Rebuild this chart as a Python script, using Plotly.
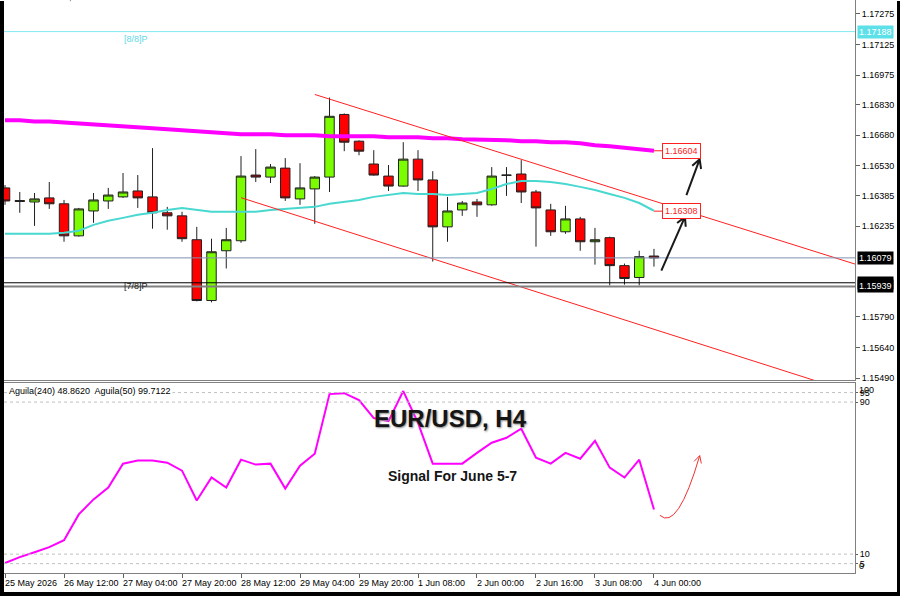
import math
import plotly.graph_objects as go

W, H = 900, 599

# ---------------- data ----------------
bars = list(range(45))
opens = [1.16422, 1.16360, 1.16353, 1.16373, 1.16344, 1.16187, 1.16309, 1.16358, 1.16378, 1.16407,
         1.16378, 1.16300, 1.16285, 1.16168, 1.15870, 1.16114, 1.16163, 1.16485, 1.16475, 1.16519,
         1.16368, 1.16417, 1.16475, 1.16782, 1.16651, 1.16539, 1.16480, 1.16431, 1.16563, 1.16461,
         1.16231, 1.16314, 1.16353, 1.16339, 1.16485, 1.16490, 1.16402, 1.16314, 1.16207, 1.16270,
         1.16158, 1.16178, 1.16041, 1.15983, 1.16088]
highs = [1.16436, 1.16402, 1.16397, 1.16451, 1.16363, 1.16324, 1.16397, 1.16422, 1.16495, 1.16485,
         1.16617, 1.16329, 1.16305, 1.16231, 1.16173, 1.16226, 1.16578, 1.16612, 1.16539, 1.16568,
         1.16543, 1.16480, 1.16865, 1.16787, 1.16655, 1.16607, 1.16534, 1.16646, 1.16607, 1.16504,
         1.16378, 1.16358, 1.16368, 1.16524, 1.16524, 1.16558, 1.16412, 1.16344, 1.16334, 1.16280,
         1.16226, 1.16183, 1.16051, 1.16114, 1.16123]
lows = [1.16339, 1.16300, 1.16236, 1.16319, 1.16158, 1.16183, 1.16251, 1.16319, 1.16373, 1.16324,
        1.16222, 1.16217, 1.16158, 1.15866, 1.15861, 1.16027, 1.16153, 1.16451, 1.16446, 1.16358,
        1.16339, 1.16246, 1.16402, 1.16602, 1.16582, 1.16482, 1.16407, 1.16428, 1.16407, 1.16061,
        1.16158, 1.16285, 1.16280, 1.16335, 1.16383, 1.16348, 1.16134, 1.16187, 1.16197, 1.16114,
        1.16046, 1.15944, 1.15948, 1.15944, 1.16036]
closes = [1.16358, 1.16356, 1.16368, 1.16344, 1.16187, 1.16319, 1.16363, 1.16387, 1.16402, 1.16373,
          1.16300, 1.16285, 1.16173, 1.15870, 1.16109, 1.16168, 1.16480, 1.16475, 1.16524, 1.16373,
          1.16422, 1.16475, 1.16773, 1.16646, 1.16602, 1.16485, 1.16431, 1.16563, 1.16461, 1.16231,
          1.16309, 1.16348, 1.16339, 1.16480, 1.16484, 1.16402, 1.16324, 1.16207, 1.16270, 1.16158,
          1.16168, 1.16041, 1.15978, 1.16085, 1.16079]
ma_slow = [1.16753, 1.16753, 1.16748, 1.16748, 1.16743, 1.16739, 1.16734, 1.16729, 1.16724, 1.16719,
           1.16714, 1.16709, 1.16704, 1.16700, 1.16695, 1.16690, 1.16685, 1.16685, 1.16685, 1.16680,
           1.16680, 1.16680, 1.16675, 1.16675, 1.16675, 1.16675, 1.16670, 1.16670, 1.16670, 1.16665,
           1.16665, 1.16660, 1.16660, 1.16656, 1.16656, 1.16651, 1.16651, 1.16646, 1.16646, 1.16641,
           1.16631, 1.16626, 1.16617, 1.16612, 1.16604]
ma_fast = [1.16197, 1.16197, 1.16197, 1.16197, 1.16202, 1.16212, 1.16241, 1.16261, 1.16275, 1.16290,
           1.16300, 1.16314, 1.16324, 1.16314, 1.16305, 1.16305, 1.16305, 1.16305, 1.16314, 1.16319,
           1.16324, 1.16329, 1.16344, 1.16353, 1.16363, 1.16378, 1.16387, 1.16397, 1.16392, 1.16392,
           1.16387, 1.16392, 1.16397, 1.16417, 1.16441, 1.16456, 1.16456, 1.16451, 1.16441, 1.16427,
           1.16412, 1.16392, 1.16373, 1.16348, 1.16310]
aguila = [5.3, 8.4, 11.0, 13.7, 17.3, 30.9, 38.8, 45.0, 57.6, 59.2,
          59.2, 58.1, 53.9, 38.2, 50.3, 45.0, 59.7, 57.1, 57.6, 44.5,
          56.5, 62.8, 94.2, 94.7, 91.0, 81.6, 80.0, 95.8, 79.0, 57.6,
          57.6, 57.6, 63.3, 68.6, 71.2, 76.0, 60.7, 57.6, 63.3, 60.2,
          69.6, 55.5, 50.3, 59.7, 33.5]

x_tick_idx = [0, 4, 8, 12, 16, 20, 24, 28, 32, 36, 40, 44]
x_tick_labels = ["25 May 2026", "26 May 12:00", "27 May 04:00", "27 May 20:00", "28 May 12:00",
                 "29 May 04:00", "29 May 20:00", "1 Jun 08:00", "2 Jun 00:00", "2 Jun 16:00",
                 "3 Jun 08:00", "4 Jun 00:00"]
price_ticks = [1.17275, 1.17125, 1.16975, 1.16830, 1.16680, 1.16530, 1.16385, 1.16235,
               1.15790, 1.15640, 1.15490]
osc_ticks = [95, 90, 10, 5]
osc_levels = [95, 90, 10, 5]

level_88 = 1.17188
level_bid = 1.16079
level_hi = 1.15957
level_78 = 1.15939
ma_slow_label = 1.16604
ma_fast_label = 1.16308

upper_channel = [(21, 1.16880), (44, 1.16358)]
lower_channel = [(16, 1.16374), (44, 1.15729)]

header = "\u25BC EURUSDm,H4  1.16088 1.16123 1.16036 1.16079"
osc_header = "Aguila(240) 48.8620  Aguila(50) 99.7122"

# ---------------- geometry ----------------
PX_L, PX_R = 4, 855
MAIN_T, MAIN_B = 0, 382
LOW_T, LOW_B = 385, 576
XR = [-0.07, 57.63]
YR = [1.15480, 1.17343]
YR2 = [0, 100]

def px_x(i):
    return PX_L + (i - XR[0]) / (XR[1] - XR[0]) * (PX_R - PX_L)

def dx_from_px(px):
    return XR[0] + (px - PX_L) / (PX_R - PX_L) * (XR[1] - XR[0])

def px_y(p):
    return MAIN_T + (YR[1] - p) / (YR[1] - YR[0]) * (MAIN_B - MAIN_T)

def py_from_px(py):
    return YR[1] - (py - MAIN_T) / (MAIN_B - MAIN_T) * (YR[1] - YR[0])

def px_y2(v):
    return LOW_T + (YR2[1] - v) / (YR2[1] - YR2[0]) * (LOW_B - LOW_T)

def v_from_px(py):
    return YR2[1] - (py - LOW_T) / (LOW_B - LOW_T) * (YR2[1] - YR2[0])

FONT = "Liberation Sans, Arial, sans-serif"

fig = go.Figure()

fig.add_trace(go.Candlestick(
    x=bars, open=opens, high=highs, low=lows, close=closes,
    increasing=dict(line=dict(color="#202020", width=1), fillcolor="#7CFC00"),
    decreasing=dict(line=dict(color="#202020", width=1), fillcolor="#FF0000"),
    whiskerwidth=0, xaxis="x", yaxis="y", showlegend=False, hoverinfo="skip"))

fig.add_trace(go.Scatter(x=bars, y=ma_slow, mode="lines", line=dict(color="#FF00FF", width=4),
                         xaxis="x", yaxis="y", showlegend=False, hoverinfo="skip"))
fig.add_trace(go.Scatter(x=bars, y=ma_fast, mode="lines", line=dict(color="#48D8D0", width=2),
                         xaxis="x", yaxis="y", showlegend=False, hoverinfo="skip"))

def extend(line, x_end):
    (x0, y0), (x1, y1) = line
    s = (y1 - y0) / (x1 - x0)
    return [x0, x_end], [y0, y0 + s * (x_end - x0)]

for ch in (upper_channel, lower_channel):
    xs, ys = extend(ch, XR[1] + 2)
    fig.add_trace(go.Scatter(x=xs, y=ys, mode="lines", line=dict(color="#FF2020", width=1),
                             xaxis="x", yaxis="y", showlegend=False, hoverinfo="skip"))

fig.add_trace(go.Scatter(x=bars, y=aguila, mode="lines", line=dict(color="#FF00FF", width=2),
                         xaxis="x2", yaxis="y2", showlegend=False, hoverinfo="skip"))

shapes = []
shapes.append(dict(type="line", xref="x domain", yref="y", x0=0, x1=1, y0=level_88, y1=level_88,
                   line=dict(color="#7FE8F0", width=1)))
shapes.append(dict(type="line", xref="x domain", yref="y", x0=0, x1=1, y0=level_bid, y1=level_bid,
                   line=dict(color="#8090B0", width=1)))
shapes.append(dict(type="line", xref="x domain", yref="y", x0=0, x1=1, y0=level_hi, y1=level_hi,
                   line=dict(color="#000000", width=1)))
shapes.append(dict(type="line", xref="x domain", yref="y", x0=0, x1=1, y0=level_78, y1=level_78,
                   line=dict(color="#808080", width=2)))
for lv in osc_levels:
    shapes.append(dict(type="line", xref="x2 domain", yref="y2", x0=0, x1=1, y0=lv, y1=lv,
                       line=dict(color="#C0C0C0", width=1, dash="dot")))

for val in (ma_slow_label, ma_fast_label):
    shapes.append(dict(type="line", xref="x", yref="y", x0=44, x1=44.6, y0=val, y1=val,
                       line=dict(color="#FF2020", width=1)))

def head_pts(ex, ey, dxp, dyp, length=9, ang=28):
    n = math.hypot(dxp, dyp)
    ux, uy = dxp / n, dyp / n
    pts = []
    for a in (ang, -ang):
        r = math.radians(a)
        bx = -(ux * math.cos(r) - uy * math.sin(r))
        by = -(ux * math.sin(r) + uy * math.cos(r))
        pts.append((ex + bx * length, ey + by * length))
    return pts

def arrow_main(start, end, color="#1A1A1A", width=2):
    sx, sy = px_x(start[0]), px_y(start[1])
    ex, ey = px_x(end[0]), px_y(end[1])
    p1, p2 = head_pts(ex, ey, ex - sx, ey - sy, length=10)
    path = "M {},{} L {},{} M {},{} L {},{} L {},{}".format(
        start[0], start[1], end[0], end[1],
        dx_from_px(p1[0]), py_from_px(p1[1]), end[0], end[1],
        dx_from_px(p2[0]), py_from_px(p2[1]))
    shapes.append(dict(type="path", xref="x", yref="y", path=path, line=dict(color=color, width=width)))

arrow_main((44.5, 1.16017), (46.1, 1.16280))
arrow_main((46.2, 1.16387), (47.1, 1.16563))

c_start, c_ctrl, c_end = (44.4, 30.4), (45.6, 22.0), (47.1, 61.8)
ex, ey = px_x(c_end[0]), px_y2(c_end[1])
cx, cy = px_x(c_ctrl[0]), px_y2(c_ctrl[1])
h1, h2 = head_pts(ex, ey, ex - cx, ey - cy, length=8)
path = "M {},{} Q {},{} {},{} M {},{} L {},{} L {},{}".format(
    c_start[0], c_start[1], c_ctrl[0], c_ctrl[1], c_end[0], c_end[1],
    dx_from_px(h1[0]), v_from_px(h1[1]), c_end[0], c_end[1], dx_from_px(h2[0]), v_from_px(h2[1]))
shapes.append(dict(type="path", xref="x2", yref="y2", path=path, line=dict(color="#F03030", width=1)))

# outer dark frame (left, bottom, right)
shapes.append(dict(type="rect", xref="paper", yref="paper", x0=0, x1=4 / W, y0=0, y1=1 - 1 / H,
                   fillcolor="#000000", line=dict(width=0), layer="above"))
shapes.append(dict(type="rect", xref="paper", yref="paper", x0=0, x1=1, y0=0, y1=4 / H,
                   fillcolor="#000000", line=dict(width=0), layer="above"))
shapes.append(dict(type="rect", xref="paper", yref="paper", x0=1 - 3 / W, x1=1, y0=0, y1=1 - 1 / H,
                   fillcolor="#000000", line=dict(width=0), layer="above"))

ann = []
ann.append(dict(xref="paper", yref="paper", x=10 / W, y=1 + 3 / H, xanchor="left", yanchor="middle",
                text=header, showarrow=False, font=dict(family=FONT, size=9, color="black")))
ann.append(dict(xref="paper", yref="paper", x=7 / W, y=1 - 393 / H, xanchor="left", yanchor="middle",
                text=osc_header, showarrow=False, bgcolor="white",
                font=dict(family=FONT, size=9, color="black")))
ann.append(dict(xref="x", yref="y", x=8.9, y=level_88, xanchor="center", yanchor="top",
                text="[8/8]P", showarrow=False, font=dict(family=FONT, size=9, color="#5ED8E8")))
ann.append(dict(xref="x", yref="y", x=8.9, y=level_78, xanchor="center", yanchor="middle",
                text="[7/8]P", showarrow=False, font=dict(family=FONT, size=9, color="#202020")))

for val, bg in ((level_88, "#5EE0E8"), (level_bid, "black"), (level_hi, "black"), (level_78, "black")):
    ann.append(dict(xref="paper", yref="y", x=857 / W, y=val, xanchor="left", yanchor="middle",
                    text="{:.5f}".format(val), showarrow=False, bgcolor=bg, borderpad=1,
                    font=dict(family=FONT, size=9, color="white")))

for val in (ma_slow_label, ma_fast_label):
    ann.append(dict(xref="x", yref="y", x=44.55, y=val, xanchor="left", yanchor="middle",
                    text="{:.5f}".format(val), showarrow=False, bgcolor="white", bordercolor="#FF2020",
                    borderwidth=1, borderpad=2, font=dict(family=FONT, size=9, color="#FF2020")))

ann.append(dict(xref="paper", yref="y2 domain", x=857 / W, y=1, xanchor="left", yanchor="top",
                text="100", showarrow=False, font=dict(family=FONT, size=9, color="black")))
ann.append(dict(xref="paper", yref="y2 domain", x=857 / W, y=0, xanchor="left", yanchor="bottom",
                text="0", showarrow=False, font=dict(family=FONT, size=9, color="black")))

for idx, lab in zip(x_tick_idx, x_tick_labels):
    ann.append(dict(xref="x2", yref="paper", x=idx, y=1 - 579 / H, xanchor="left", yanchor="top",
                    xshift=-2, text=lab, showarrow=False, font=dict(family=FONT, size=9, color="black")))

ann.append(dict(xref="paper", yref="paper", x=451 / W, y=1 - 421 / H, xanchor="center", yanchor="middle",
                text="<b>EUR/USD, H4</b>", showarrow=False,
                font=dict(family=FONT, size=24, color="#151515", shadow="1px 1px 2px #888888")))
ann.append(dict(xref="paper", yref="paper", x=452 / W, y=1 - 478 / H, xanchor="center", yanchor="middle",
                text="<b>Signal For June 5-7</b>", showarrow=False,
                font=dict(family=FONT, size=14, color="#151515")))

fig.update_layout(
    width=W, height=H, margin=dict(l=0, r=0, t=0, b=0),
    paper_bgcolor="white", plot_bgcolor="white",
    boxgap=0.2, boxgroupgap=0.2,
    showlegend=False, hovermode=False,
    shapes=shapes, annotations=ann,
    xaxis=dict(domain=[PX_L / W, PX_R / W], range=XR, anchor="y", showticklabels=False,
               showgrid=False, zeroline=False, rangeslider=dict(visible=False),
               showline=True, linecolor="#808080", linewidth=1, ticks=""),
    yaxis=dict(domain=[1 - MAIN_B / H, 1 - MAIN_T / H], range=YR, anchor="x", side="right",
               tickvals=price_ticks, ticktext=["{:.5f}".format(v) for v in price_ticks],
               ticks="outside", ticklen=4, tickcolor="#606060", showgrid=False, zeroline=False,
               showline=True, linecolor="#808080", linewidth=1,
               tickfont=dict(family=FONT, size=9, color="black")),
    xaxis2=dict(domain=[PX_L / W, PX_R / W], range=XR, anchor="y2", matches="x",
                tickvals=x_tick_idx, showticklabels=False, ticks="outside", ticklen=4,
                tickcolor="#606060", showgrid=False, zeroline=False,
                showline=True, linecolor="#808080", linewidth=1, mirror=True),
    yaxis2=dict(domain=[1 - LOW_B / H, 1 - LOW_T / H], range=YR2, anchor="x2", side="right",
                tickvals=osc_ticks, ticktext=[str(v) for v in osc_ticks], ticks="outside", ticklen=2,
                tickcolor="#606060", showgrid=False, zeroline=False,
                showline=True, linecolor="#808080", linewidth=1, mirror=True,
                tickfont=dict(family=FONT, size=9, color="black")),
)

fig.write_html(
    "out.html",
    config={"displayModeBar": False, "responsive": False},
    post_script=("var d=document.documentElement,b=document.body;"
                 "d.style.margin='0';b.style.margin='0';d.style.padding='0';b.style.padding='0';"
                 "d.style.overflow='hidden';b.style.overflow='hidden';"
                 "d.style.height='599px';b.style.height='599px';"),
)
